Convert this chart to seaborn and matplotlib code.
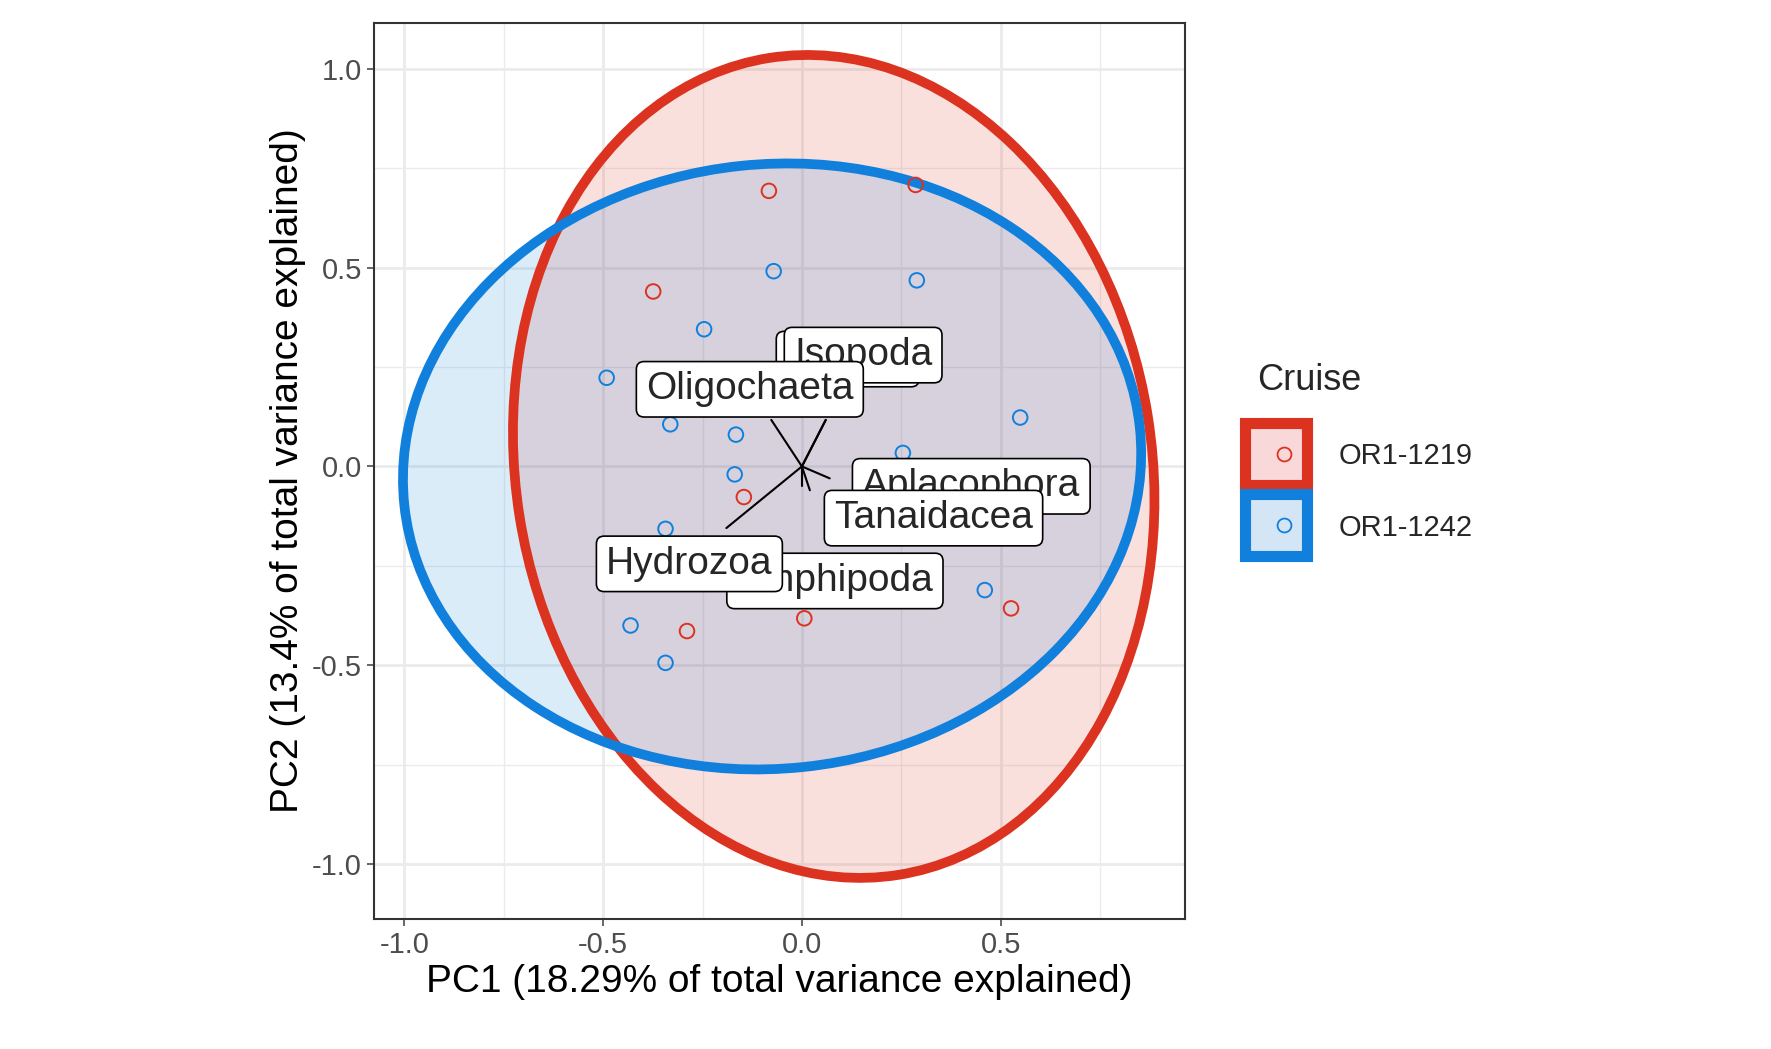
import numpy as np
import pandas as pd
import matplotlib
matplotlib.use("Agg")
import matplotlib.pyplot as plt
import seaborn as sns
from matplotlib.patches import Ellipse
from matplotlib.lines import Line2D
from matplotlib.legend_handler import HandlerTuple

# ---- data ----
red_x = [-0.083, 0.286, -0.374, -0.146, -0.289, 0.006, 0.526]
red_y = [0.693, 0.708, 0.440, -0.077, -0.414, -0.382, -0.357]
blue_x = [-0.071, 0.289, -0.246, -0.491, -0.331, -0.166, -0.169, 0.549, 0.254, -0.343, -0.431, -0.343, 0.460]
blue_y = [0.491, 0.468, 0.345, 0.223, 0.106, 0.080, -0.020, 0.123, 0.034, -0.157, -0.400, -0.494, -0.311]
cruises = ["OR1-1219", "OR1-1242"]
colors = {"OR1-1219": "#DC3220", "OR1-1242": "#1080DC"}
fills = {"OR1-1219": "#F8D8D8", "OR1-1242": "#D4E6F6"}

# ellipse params: center x, center y, width, height, angle
ell_cx = [0.08, -0.075]
ell_cy = [0.0, 0.0]
ell_w = [1.60, 1.86]
ell_h = [2.08, 1.52]
ell_ang = [9, 6]

taxa = ["Mysida", "Isopoda", "Oligochaeta", "Aplacophora", "Tanaidacea", "Amphipoda", "Hydrozoa"]
seg_x = [0.06, 0.06, -0.077, 0.07, 0.02, 0.0, -0.19]
seg_y = [0.117, 0.117, 0.117, -0.03, -0.06, -0.05, -0.155]
lab_x = [0.115, 0.154, -0.131, 0.426, 0.331, 0.083, -0.283]
lab_y = [0.270, 0.280, 0.194, -0.050, -0.130, -0.288, -0.245]

df = pd.DataFrame({
    "PC1": red_x + blue_x,
    "PC2": red_y + blue_y,
    "Cruise": ["OR1-1219"] * len(red_x) + ["OR1-1242"] * len(blue_x),
})

sns.set_theme(style="whitegrid")
plt.rcParams['font.family'] = ['Arial', 'Liberation Sans', 'DejaVu Sans']
fig = plt.figure(figsize=(17.71, 10.49), dpi=100)
ax = fig.add_axes([0.211, 0.124, 0.458, 0.854])

for i, c in enumerate(cruises):
    ax.add_patch(Ellipse((ell_cx[i], ell_cy[i]), ell_w[i], ell_h[i], angle=ell_ang[i],
                         facecolor=colors[c], alpha=0.15, edgecolor="none", zorder=2))
for i, c in enumerate(cruises):
    ax.add_patch(Ellipse((ell_cx[i], ell_cy[i]), ell_w[i], ell_h[i], angle=ell_ang[i],
                         facecolor="none", edgecolor=colors[c], lw=7, zorder=3))

sns.scatterplot(data=df, x="PC1", y="PC2", hue="Cruise", palette=colors, ax=ax,
                marker="o", s=110, linewidth=1.4, legend=False, zorder=4)
pts = ax.collections[-1]
pts.set_facecolor("none")
pts.set_edgecolor([colors[c] for c in df["Cruise"]])

for i in range(len(taxa)):
    ax.plot([0, seg_x[i]], [0, seg_y[i]], color="black", lw=1.5, zorder=5)
for i in range(len(taxa)):
    ax.text(lab_x[i], lab_y[i], taxa[i], fontsize=28, ha="center", va="center", zorder=6,
            bbox=dict(boxstyle="round,pad=0.25,rounding_size=0.2", fc="white", ec="black", lw=1.2))

ax.set_xlim(-1.077, 0.963)
ax.set_ylim(-1.138, 1.115)
ax.set_xticks([-1.0, -0.5, 0.0, 0.5])
ax.set_yticks([-1.0, -0.5, 0.0, 0.5, 1.0])
ax.set_xticklabels(["-1.0", "-0.5", "0.0", "0.5"])
ax.set_yticklabels(["-1.0", "-0.5", "0.0", "0.5", "1.0"])
ax.set_xticks([-0.75, -0.25, 0.25, 0.75], minor=True)
ax.set_yticks([-0.75, -0.25, 0.25, 0.75], minor=True)
ax.grid(True, which="major", color="#EBEBEB", lw=2)
ax.grid(True, which="minor", color="#EBEBEB", lw=1)
ax.set_facecolor("white")
for s in ax.spines.values():
    s.set_color("#333333"); s.set_linewidth(1.5)
ax.tick_params(axis="both", which="major", labelsize=21, colors="#4D4D4D", length=5, width=1.2,
               direction="out", left=True, bottom=True)
ax.tick_params(which="minor", length=0)
ax.set_xlabel("PC1 (18.29% of total variance explained)", fontsize=28, color="black", labelpad=4)
ax.set_ylabel("PC2 (13.4% of total variance explained)", fontsize=28, color="black", labelpad=4)

handles = []
for c in cruises:
    sq = Line2D([], [], marker="s", linestyle="none", markersize=44, markerfacecolor=fills[c],
                markeredgecolor=colors[c], markeredgewidth=8)
    ci = Line2D([], [], marker="o", linestyle="none", markersize=10, markerfacecolor="none",
                markeredgecolor=colors[c], markeredgewidth=1.3)
    handles.append((sq, ci))
leg = fig.legend(handles, cruises, handler_map={tuple: HandlerTuple(ndivide=None, pad=-1.0)},
                 loc="upper left", bbox_to_anchor=(0.703, 0.665), title="Cruise", frameon=False,
                 fontsize=21, title_fontsize=26, labelspacing=1.5, handlelength=1.6,
                 handletextpad=1.2, borderaxespad=0)
leg._legend_box.align = "left"

fig.savefig("out.png", dpi=100)
